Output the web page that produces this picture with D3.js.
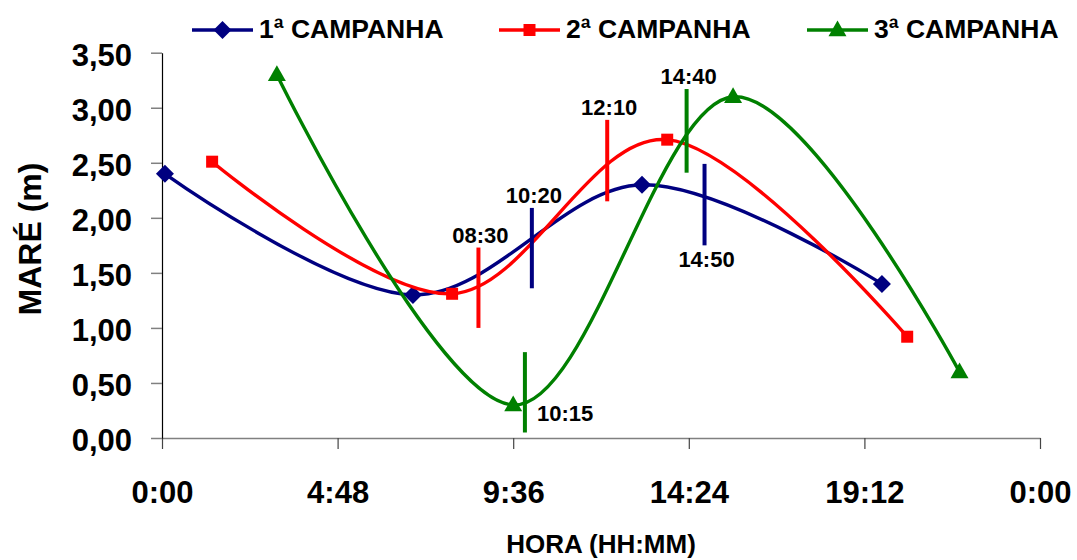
<!DOCTYPE html>
<html>
<head>
<meta charset="utf-8">
<script src="https://cdn.jsdelivr.net/npm/d3@7"></script>
<style>
  html, body { margin: 0; padding: 0; background: #fff; }
  svg { display: block; font-family: "Liberation Sans", Arial, sans-serif; font-weight: bold; }
</style>
</head>
<body>
<div id="chart"></div>
<script>
// tick labels
const xTickHours = [0, 4.8, 9.6, 14.4, 19.2, 24];
const xTickLabels = ["0:00", "4:48", "9:36", "14:24", "19:12", "0:00"];
const yTickValues = [0, 0.5, 1, 1.5, 2, 2.5, 3, 3.5];
const yTickLabels = ["0,00", "0,50", "1,00", "1,50", "2,00", "2,50", "3,00", "3,50"];

// series (hora em horas decimais, maré em m)
const seriesNames = ["1ª CAMPANHA", "2ª CAMPANHA", "3ª CAMPANHA"];
const hours1 = [0.08, 6.86, 13.12, 19.68];
const tide1 = [2.40, 1.30, 2.30, 1.40];
const hours2 = [1.37, 7.93, 13.81, 20.37];
const tide2 = [2.51, 1.31, 2.71, 0.92];
const hours3 = [3.14, 9.60, 15.61, 21.80];
const tide3 = [3.30, 0.30, 3.10, 0.60];

// marcas de horário sobre as curvas
const markLabels = ["08:30", "10:20", "10:15", "12:10", "14:40", "14:50"];
const markHours = [8.65, 10.11, 9.92, 12.17, 14.34, 14.83];
const markLow = [1.00, 1.36, 0.05, 2.15, 2.41, 1.75];
const markHigh = [1.73, 2.09, 0.78, 2.89, 3.17, 2.49];
const markSeries = [1, 0, 2, 1, 2, 0];
const markSide = ["top", "top", "right", "top", "top", "bottom"];

const colors = ["#000080", "#FF0000", "#008000"];
const shapes = ["diamond", "square", "triangle"];

const width = 1077, height = 560;
const x = d3.scaleLinear().domain([0, 24]).range([162, 1040]);
const y = d3.scaleLinear().domain([0, 3.5]).range([438, 52.7]);

const svg = d3.select("#chart").append("svg")
  .attr("width", width)
  .attr("height", height);

// eixo X
const xAxis = svg.append("g")
  .attr("transform", `translate(0, ${y(0)})`)
  .call(d3.axisBottom(x)
    .tickValues(xTickHours)
    .tickFormat((d, i) => xTickLabels[i])
    .tickSize(11)
    .tickPadding(32)
    .tickSizeOuter(0));
xAxis.select(".domain").attr("stroke", "#808080").attr("stroke-width", 1.5);
xAxis.selectAll(".tick line").attr("stroke", "#444").attr("stroke-width", 1.2);
xAxis.selectAll("text")
  .attr("fill", "#000")
  .style("font-size", "31px")
  .style("font-weight", "bold");

// eixo Y
const yAxis = svg.append("g")
  .attr("transform", `translate(${x(0)}, 0)`)
  .call(d3.axisLeft(y)
    .tickValues(yTickValues)
    .tickFormat((d, i) => yTickLabels[i])
    .tickSize(11)
    .tickPadding(19)
    .tickSizeOuter(0));
yAxis.select(".domain").attr("stroke", "#000").attr("stroke-width", 1.2);
yAxis.selectAll(".tick line").attr("stroke", "#808080").attr("stroke-width", 1.5);
yAxis.selectAll("text")
  .attr("fill", "#000")
  .attr("dy", "0.4em")
  .style("font-size", "31px")
  .style("font-weight", "bold");

// títulos dos eixos
svg.append("text")
  .attr("transform", "translate(41, 239) rotate(-90)")
  .attr("text-anchor", "middle")
  .style("font-size", "32px")
  .text("MARÉ (m)");

svg.append("text")
  .attr("x", 601)
  .attr("y", 553)
  .attr("text-anchor", "middle")
  .style("font-size", "26px")
  .text("HORA (HH:MM)");

// marcadores
function markerPath(shape) {
  if (shape === "diamond") return d3.symbol(d3.symbolSquare, 162)();
  if (shape === "square") return d3.symbol(d3.symbolSquare, 144)();
  return d3.symbol(d3.symbolTriangle, 140)();
}
function markerTransform(shape, px, py) {
  if (shape === "diamond") return `translate(${px}, ${py}) rotate(45)`;
  if (shape === "triangle") return `translate(${px}, ${py + 1})`;
  return `translate(${px}, ${py})`;
}

const allHours = [hours1, hours2, hours3];
const allTide = [tide1, tide2, tide3];

const line = d3.line()
  .x((d) => x(d[0]))
  .y((d) => y(d[1]))
  .curve(d3.curveCardinal.tension(0));

allHours.forEach((hrs, s) => {
  const pts = hrs.map((h, i) => [h, allTide[s][i]]);
  const g = svg.append("g");
  g.append("path")
    .datum(pts)
    .attr("d", line)
    .attr("fill", "none")
    .attr("stroke", colors[s])
    .attr("stroke-width", 3.4)
    .attr("stroke-linejoin", "round");
  g.selectAll("path.mk")
    .data(pts)
    .enter()
    .append("path")
    .attr("class", "mk")
    .attr("d", markerPath(shapes[s]))
    .attr("transform", (d) => markerTransform(shapes[s], x(d[0]), y(d[1])))
    .attr("fill", colors[s]);
});

// marcas de horário
markLabels.forEach((lab, i) => {
  const mx = x(markHours[i]);
  const yTop = y(markHigh[i]);
  const yBot = y(markLow[i]);
  svg.append("line")
    .attr("x1", mx).attr("x2", mx)
    .attr("y1", yTop).attr("y2", yBot)
    .attr("stroke", colors[markSeries[i]])
    .attr("stroke-width", 4);

  let tx = mx + 2, ty = yTop - 5, anchor = "middle";
  if (markSide[i] === "bottom") { ty = yBot + 22; }
  if (markSide[i] === "right") { tx = mx + 12; ty = yBot - 11; anchor = "start"; }
  svg.append("text")
    .attr("x", tx)
    .attr("y", ty)
    .attr("text-anchor", anchor)
    .style("font-size", "22px")
    .text(lab);
});

// legenda
const legendX = [192, 499, 807];
seriesNames.forEach((name, s) => {
  const lx = legendX[s];
  const g = svg.append("g");
  g.append("line")
    .attr("x1", lx).attr("x2", lx + 61)
    .attr("y1", 30).attr("y2", 30)
    .attr("stroke", colors[s])
    .attr("stroke-width", 3.5);
  g.append("path")
    .attr("d", markerPath(shapes[s]))
    .attr("transform", markerTransform(shapes[s], lx + 30.5, 30))
    .attr("fill", colors[s]);
  g.append("text")
    .attr("x", lx + 67)
    .attr("y", 38)
    .style("font-size", "26.5px")
    .text(name);
});
</script>
</body>
</html>
